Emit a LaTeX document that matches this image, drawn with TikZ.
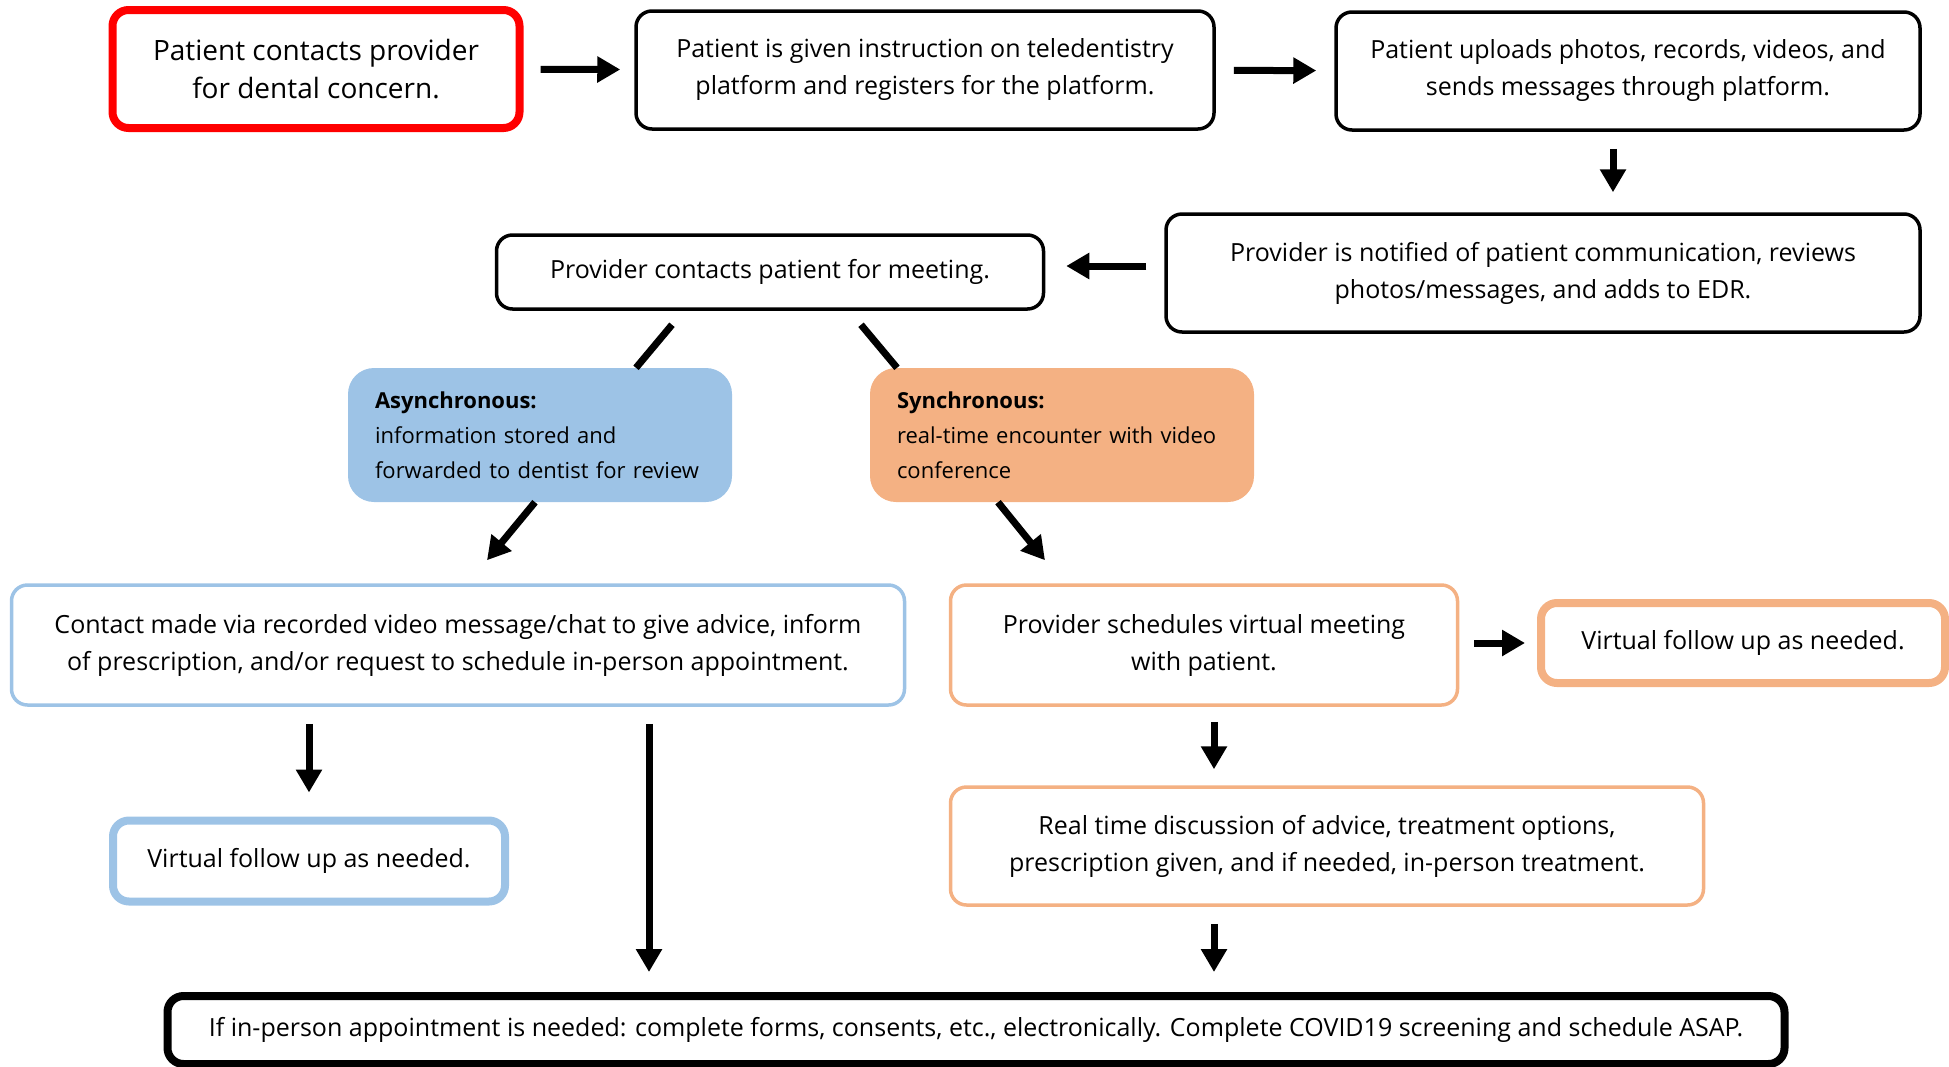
\documentclass[tikz,border=0pt]{standalone}
\usepackage{fontspec}
\setmainfont{Open Sans}
\usetikzlibrary{arrows.meta}
\definecolor{asyncblue}{HTML}{9DC3E6}
\definecolor{syncorange}{HTML}{F4B183}

\begin{document}
\begin{tikzpicture}[
  x=1pt, y=-1pt,
  >={Triangle[length=23pt,width=25pt]},
  box/.style      = {
    draw, rounded corners=16pt,
    line width=3.5pt,
    align=center,
    inner sep=0pt,
    font=\fontsize{25}{37}\selectfont
  },
  thickbox/.style = {box, line width=8pt},
  modebox/.style  = {
    rounded corners=26pt,
    align=left,
    inner xsep=27pt, inner ysep=0pt,
    text width=330pt,
    minimum height=134pt,
    font=\fontsize{22}{35}\selectfont
  },
  arrow/.style    = {->, line width=7pt},
  link/.style     = {line width=7pt}
]

\useasboundingbox (0,0) rectangle (1949,1066);

% ---- top row ----
\node[thickbox, draw=red, minimum width=407pt, minimum height=118pt,
      font=\fontsize{28}{38}\selectfont] (contact) at (316,69)
  {Patient contacts provider\\for dental concern.};
\node[box, minimum width=578pt, minimum height=118pt] (register) at (925,70)
  {Patient is given instruction on teledentistry\\platform and registers for the platform.};
\node[box, minimum width=584pt, minimum height=118pt] (upload) at (1628,71)
  {Patient uploads photos, records, videos, and\\sends messages through platform.};

% ---- provider ----
\node[box, minimum width=754pt, minimum height=118pt] (notify) at (1543,273)
  {Provider is notified of patient communication, reviews\\photos/messages, and adds to EDR.};
\node[box, minimum width=547pt, minimum height=74pt] (meet) at (770,272)
  {Provider contacts patient for meeting.};

% ---- the two modes ----
\node[modebox, fill=asyncblue] (async) at (540,435)
  {\textbf{Asynchronous:}\\information stored and\\forwarded to dentist for review};
\node[modebox, fill=syncorange] (sync) at (1062,435)
  {\textbf{Synchronous:}\\real-time encounter with video\\conference};

% ---- follow up ----
\node[box, draw=asyncblue, minimum width=893pt, minimum height=120pt] (advice) at (458,645)
  {Contact made via recorded video message/chat to give advice, inform\\of prescription, and/or request to schedule in-person appointment.};
\node[box, draw=syncorange, minimum width=507pt, minimum height=120pt] (schedule) at (1204,645)
  {Provider schedules virtual meeting\\with patient.};
\node[thickbox, draw=syncorange, minimum width=404pt, minimum height=80pt] (syncfollow) at (1743,643)
  {Virtual follow up as needed.};
\node[thickbox, draw=asyncblue, minimum width=392pt, minimum height=81pt] (asyncfollow) at (309,861)
  {Virtual follow up as needed.};
\node[box, draw=syncorange, minimum width=753pt, minimum height=118pt] (discuss) at (1327,846)
  {Real time discussion of advice, treatment options,\\prescription given, and if needed, in-person treatment.};
\node[thickbox, minimum width=1617pt, minimum height=68pt] (inperson) at (976,1030)
  {If in-person appointment is needed: complete forms, consents, etc., electronically. Complete COVID19 screening and schedule ASAP.};

% ---- arrows ----
\draw[arrow, shorten <=17pt, shorten >=14pt] (contact) -- (register);
\draw[arrow, shorten <=18pt, shorten >=18pt] (register) -- (upload);
\draw[arrow, shorten <=17pt, shorten >=20pt]
  ([xshift=-15pt]upload.south) -- ([xshift=-15pt]upload.south |- notify.north);
\draw[arrow, shorten <=18pt, shorten >=21pt]
  ([yshift=7pt]notify.west) -- ([yshift=7pt]notify.west -| meet.east);

\draw[link] ([shift={(-98,14)}]meet.south) -- ([xshift=96pt]async.north);
\draw[link] ([shift={(91,14)}]meet.south) -- ([xshift=-165pt]sync.north);

\draw[arrow] ([xshift=-5pt]async.south) -- ([shift={(29,-23)}]advice.north);
\draw[arrow] ([xshift=-64pt]sync.south) -- ([shift={(-159,-23)}]schedule.north);

\draw[arrow, shorten <=15pt, shorten >=12pt] (schedule.east |- syncfollow.west) -- (syncfollow.west);
\draw[arrow, shorten <=17pt, shorten >=24pt] (advice.south -| asyncfollow.north) -- (asyncfollow.north);
\draw[arrow, shorten <=17pt, shorten >=20pt]
  ([xshift=191pt]advice.south) -- ([xshift=191pt]advice.south |- inperson.north);
\draw[arrow, shorten <=15pt, shorten >=16pt]
  ([xshift=10pt]schedule.south) -- ([xshift=10pt]schedule.south |- discuss.north);
\draw[arrow, shorten <=17pt, shorten >=20pt]
  ([xshift=-113pt]discuss.south) -- ([xshift=-113pt]discuss.south |- inperson.north);

\end{tikzpicture}
\end{document}
